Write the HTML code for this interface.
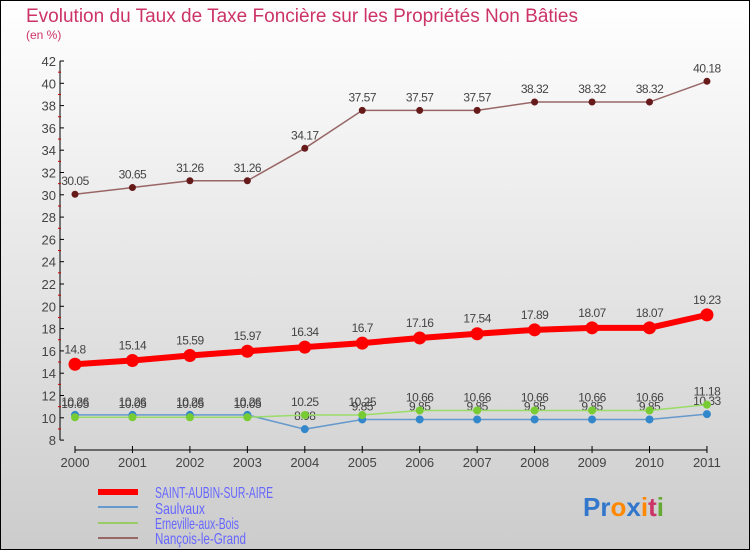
<!DOCTYPE html>
<html><head><meta charset="utf-8"><style>
body{margin:0;width:750px;height:550px;overflow:hidden;font-family:"Liberation Sans",sans-serif}
</style></head><body>
<svg id="chart" width="750" height="550" xmlns="http://www.w3.org/2000/svg">
<defs><linearGradient id="bg" x1="0" y1="0" x2="0" y2="1"><stop offset="0" stop-color="#ffffff"/><stop offset="1" stop-color="#cccccc"/></linearGradient></defs>
<rect x="0.5" y="0.5" width="749" height="549" fill="url(#bg)" stroke="#000"/>
<text x="26" y="22" font-size="19" fill="#cc3366" textLength="552" lengthAdjust="spacingAndGlyphs">Evolution du Taux de Taxe Foncière sur les Propriétés Non Bâties</text>
<text x="26" y="39" font-size="12" fill="#cc3366">(en %)</text>
<g id="axes"></g><g id="series"></g>
<g font-size="16" fill="#6666ff">
<line x1="98" y1="492" x2="138" y2="492" stroke="#ff0000" stroke-width="6"/>
<line x1="98" y1="507" x2="138" y2="507" stroke="#6699cc" stroke-width="2"/>
<line x1="98" y1="523" x2="138" y2="523" stroke="#99cc66" stroke-width="2"/>
<line x1="98" y1="538" x2="138" y2="538" stroke="#996666" stroke-width="2"/>
<text x="155" y="498" textLength="118" lengthAdjust="spacingAndGlyphs">SAINT-AUBIN-SUR-AIRE</text>
<text x="155" y="514" textLength="50" lengthAdjust="spacingAndGlyphs">Saulvaux</text>
<text x="155" y="529" textLength="84" lengthAdjust="spacingAndGlyphs">Erneville-aux-Bois</text>
<text x="155" y="544" textLength="91" lengthAdjust="spacingAndGlyphs">Nançois-le-Grand</text>
</g>
<text x="583" y="516" font-size="26" font-weight="bold"><tspan fill="#3377cc">Pr</tspan><tspan fill="#ff8800">o</tspan><tspan fill="#3377cc">x</tspan><tspan fill="#ff8800">i</tspan><tspan fill="#cc3366">t</tspan><tspan fill="#66aa33">i</tspan></text>
</svg>
<script>
const years=[2000,2001,2002,2003,2004,2005,2006,2007,2008,2009,2010,2011];
const yTicks=[8,10,12,14,16,18,20,22,24,26,28,30,32,34,36,38,40,42];
const saintAubin=[14.8,15.14,15.59,15.97,16.34,16.7,17.16,17.54,17.89,18.07,18.07,19.23];
const saulvaux=[10.26,10.26,10.26,10.26,8.98,9.85,9.85,9.85,9.85,9.85,9.85,10.33];
const erneville=[10.05,10.05,10.05,10.05,10.25,10.25,10.66,10.66,10.66,10.66,10.66,11.18];
const nancois=[30.05,30.65,31.26,31.26,34.17,37.57,37.57,37.57,38.32,38.32,38.32,40.18];
const NS="http://www.w3.org/2000/svg";
const xS=i=>75+i*57.45;
const yS=v=>61+(42-v)*11.15;
function mk(p,t,a){const e=document.createElementNS(NS,t);for(const k in a)e.setAttribute(k,a[k]);p.appendChild(e);return e;}
const ax=document.getElementById('axes');
const yl=mk(ax,'line',{x1:60,y1:yS(42),x2:60,y2:yS(8),stroke:'#000'});


const xl=mk(ax,'line',{x1:75,y1:450,x2:xS(11),y2:450,stroke:'#000'});


yTicks.forEach(v=>{
 mk(ax,'line',{x1:60,y1:yS(v),x2:64,y2:yS(v),stroke:'#000'});
 if(v<42) mk(ax,'line',{x1:58,y1:yS(v+1),x2:61,y2:yS(v+1),stroke:'#cc0000'});
 const t=mk(ax,'text',{x:56,y:yS(v)+5,'text-anchor':'end','font-size':13,fill:'#444'});
 t.textContent=v;
 
 
});
years.forEach((y,i)=>{
 mk(ax,'line',{x1:xS(i),y1:446,x2:xS(i),y2:453,stroke:'#000'});
 const t=mk(ax,'text',{x:xS(i),y:467,'text-anchor':'middle','font-size':13,fill:'#444'});
 t.textContent=y;
 
 
});
const sg=document.getElementById('series');
function series(name,vals,color,dot,w,r,labelDy){
 const g=mk(sg,'g',{});
 
 
 const pl=mk(g,'polyline',{points:vals.map((v,i)=>xS(i)+','+yS(v)).join(' '),fill:'none',stroke:color,'stroke-width':w});
 
 
 vals.forEach((v,i)=>{
  const c=mk(g,'circle',{cx:xS(i),cy:yS(v),r:r,fill:dot});
  
  
  const t=mk(g,'text',{x:xS(i),y:yS(v)+labelDy,'text-anchor':'middle','font-size':12,fill:'#444','letter-spacing':'-0.5'});
  t.textContent=v;
  
  
 });
}
series('nancois',nancois,'#996666','#661a1a',1.5,3.5,-9);
series('saulvaux',saulvaux,'#6699cc','#3388cc',1.5,4,-9);
series('erneville',erneville,'#99dd66','#77cc33',1.5,4,-9);
series('saint-aubin',saintAubin,'#ff0000','#ff0000',6,6.5,-11);
</script>
</body></html>
